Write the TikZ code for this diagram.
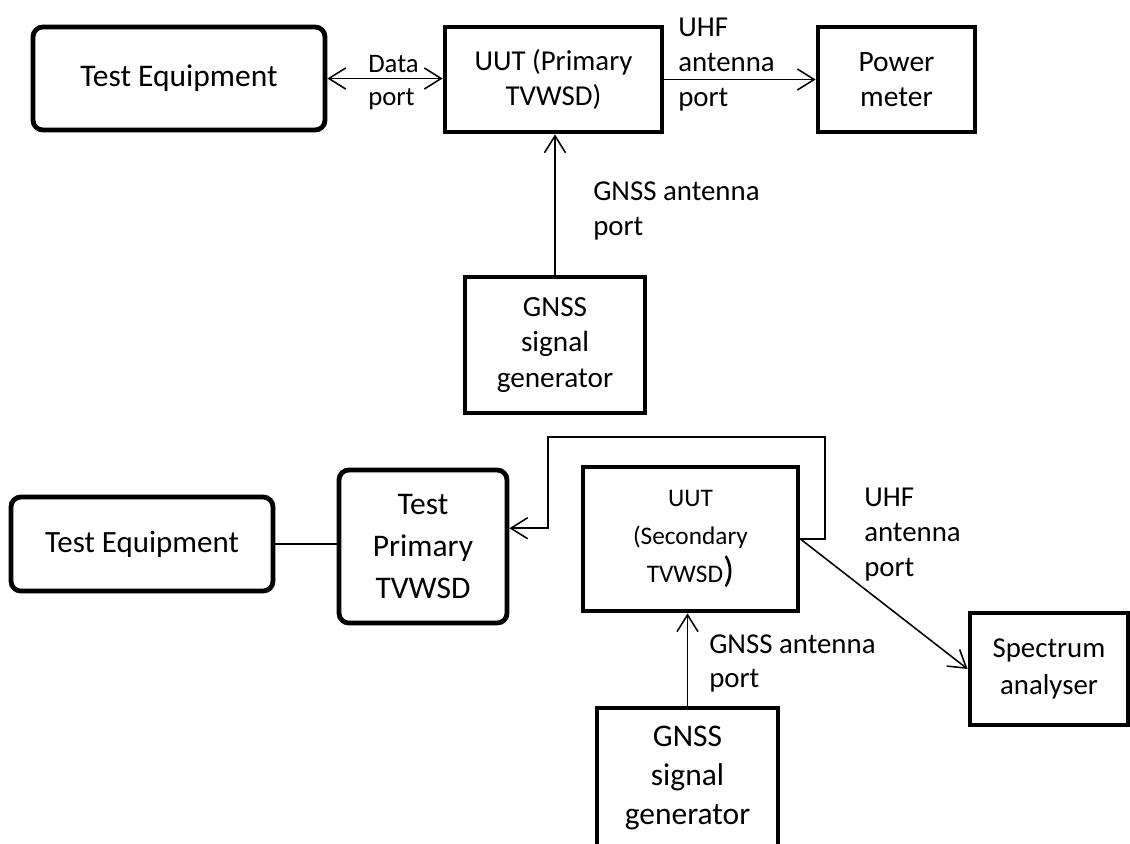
\documentclass[tikz,border=0pt]{standalone}
\usepackage{fontspec}
\setmainfont{Carlito}
\usetikzlibrary{arrows.meta}

\begin{document}
\begin{tikzpicture}[x=0.025cm, y=-0.025cm,
  >={Straight Barb[length=12pt,width=15pt]},
  sz/.style 2 args={minimum width=#1*0.025cm, minimum height=#2*0.025cm},
  blk/.style={draw, line width=3.4pt, align=center, inner sep=0pt},
  rblk/.style={blk, rounded corners=7pt},
  lbl/.style={anchor=north west, align=left, inner sep=0pt, font=\fontsize{20.5}{24.8}\selectfont},
  conn/.style={line width=1.1pt}]
\useasboundingbox (0,0) rectangle (1130,843);
\clip (0,0) rectangle (1130,843);

% Primary set-up
\node[rblk, sz={292}{103}, font=\fontsize{22.4}{26}\selectfont] (teA) at (179,78.5) {Test Equipment};
\node[blk, sz={217}{105}, font=\fontsize{20.5}{24.8}\selectfont] (uutA) at (553.5,79.5) {UUT (Primary\\TVWSD)};
\node[blk, sz={157}{105}, font=\fontsize{21}{24.8}\selectfont] (pmA) at (896.5,79.5) {Power\\meter};
\node[blk, sz={180}{136}, font=\fontsize{20.8}{25}\selectfont] (gnssA) at (555,345) {GNSS\\signal\\generator};

\node[lbl, font=\fontsize{19}{23.5}\selectfont] (dataA) at (368,55) {Data\\port};
\node[lbl] (uhfA) at (678,18) {UHF\\antenna\\port};
\node[lbl] (gportA) at (593,182) {GNSS antenna\\port};

\draw[conn, <->] (teA.east) -- (teA.east -| uutA.west);
\draw[conn, ->] (uutA.east) -- (pmA.west);
\draw[conn, ->] (gnssA.north) -- (gnssA.north |- uutA.south);

% Secondary set-up
\node[rblk, sz={262}{94}, font=\fontsize{22}{26}\selectfont] (teB) at (142,544) {Test Equipment};
\node[rblk, sz={168}{153}, font=\fontsize{22.4}{30}\selectfont] (tpB) at (423,546.5) {Test\\Primary\\TVWSD};
\node[blk, sz={215}{144}, font=\fontsize{18}{27}\selectfont] (uutB) at (690.5,539) {UUT\\(Secondary\\TVWSD{\fontsize{26}{27}\selectfont)}};
\node[blk, sz={158}{112}, font=\fontsize{20.5}{26}\selectfont] (saB) at (1049,669) {Spectrum\\analyser};
\node[blk, sz={181}{140}, font=\fontsize{22.4}{27.4}\selectfont] (gnssB) at (687.5,778) {GNSS\\signal\\generator};

\node[lbl] (uhfB) at (864,488) {UHF\\antenna\\port};
\node[lbl] (gportB) at (709,634) {GNSS antenna\\port};

\coordinate (loopR) at (825,437);
\coordinate (loopL) at (548,437);

\draw[conn] (teB.east) -- (teB.east -| tpB.west);
\draw[conn, ->] (uutB.east) -| (loopR) -- (loopL) |- ([yshift=13pt]tpB.east);
\draw[conn, ->] (uutB.east) -- (saB.west);
\draw[conn, ->] (gnssB.north) -- (gnssB.north |- uutB.south);
\end{tikzpicture}
\end{document}
